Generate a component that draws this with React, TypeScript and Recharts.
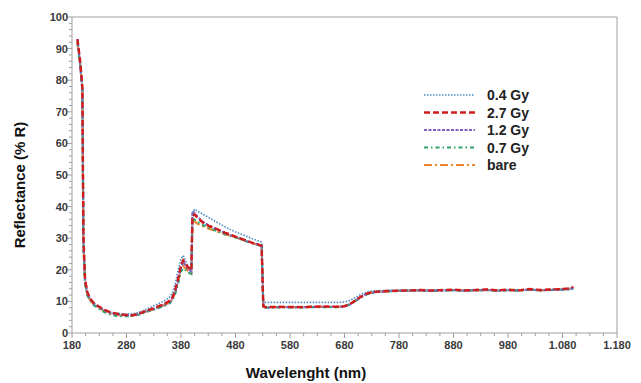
import React from 'react';
import { LineChart, Line, XAxis, YAxis, ReferenceLine, Legend } from 'recharts';

const wavelengths = [
  190, 195, 199, 201, 204, 208, 213, 220, 230, 240,
  250, 260, 270, 280, 290, 300, 310, 320, 330, 340,
  350, 360, 365, 370, 375, 380, 384, 388, 392, 396,
  399, 401, 405, 410, 420, 430, 440, 450, 460, 470,
  480, 490, 500, 510, 520, 528, 531, 535, 560, 600,
  640, 670, 680, 690, 700, 710, 720, 730, 740, 760,
  780, 800, 820, 840, 860, 880, 900, 920, 940, 960,
  980, 1000, 1020, 1040, 1060, 1080, 1090, 1100
];

const gy04 = [
  92, 85, 77, 28, 16, 12.5, 10.8, 9.4, 8.2, 7.2,
  6.6, 6.3, 6.1, 6.0, 6.1, 6.4, 7.0, 7.8, 8.6, 9.4,
  10.2, 11.5, 13, 16, 20, 23.5, 24.5, 23, 21.5, 20.5,
  20.2, 38, 39.2, 38.6, 37.6, 36.6, 35.6, 34.6, 33.7, 32.8,
  32, 31.3, 30.6, 29.9, 29.3, 28.8, 9.8, 9.7, 9.7, 9.7,
  9.7, 9.7, 9.8, 10.3, 11.2, 12.2, 12.9, 13.3, 13.4, 13.5,
  13.5, 13.5, 13.4, 13.6, 13.5, 13.5, 13.4, 13.6, 13.5, 13.4,
  13.6, 13.5, 13.6, 13.7, 13.6, 13.8, 13.7, 13.9
];

const gy27 = [
  93, 86, 78, 30, 17, 13, 11, 9.5, 8.3, 7.3,
  6.6, 6.2, 5.9, 5.7, 5.6, 6.0, 6.6, 7.3, 7.8, 8.6,
  9.2, 10.3, 11.5, 14, 17.5, 21.5, 23, 22, 21, 20.2,
  19.8, 37, 37.5, 36.5, 35, 34, 33.3, 32.6, 31.8, 31.2,
  30.5, 29.9, 29.2, 28.6, 28.1, 27.6, 8.5, 8.2, 8.3, 8.2,
  8.4, 8.3, 8.5, 9.2, 10.3, 11.5, 12.4, 12.9, 13.1, 13.3,
  13.4, 13.5, 13.6, 13.4, 13.6, 13.7, 13.5, 13.6, 13.8, 13.5,
  13.7, 13.5, 13.9, 13.6, 13.8, 13.9, 14.1, 14.6
];

const gy12 = [
  93, 85, 77, 29, 16.5, 12.8, 10.8, 9.3, 8.1, 7.1,
  6.4, 6.0, 5.8, 5.6, 5.6, 5.9, 6.5, 7.1, 7.6, 8.3,
  9.0, 10.0, 11.2, 13.5, 17, 21, 22.5, 21.5, 20.5, 19.8,
  19.5, 38.5, 38.0, 36.8, 35.2, 34.1, 33.3, 32.5, 31.7, 31.0,
  30.4, 29.8, 29.1, 28.5, 28.0, 27.5, 8.3, 8.1, 8.2, 8.2,
  8.3, 8.3, 8.4, 9.1, 10.2, 11.4, 12.3, 12.8, 13.0, 13.3,
  13.4, 13.4, 13.5, 13.4, 13.5, 13.6, 13.4, 13.5, 13.7, 13.4,
  13.6, 13.5, 13.8, 13.5, 13.7, 13.8, 13.9, 14.3
];

const gy07 = [
  92, 85, 77, 27, 15.5, 12, 10.3, 8.8, 7.6, 6.6,
  5.9, 5.5, 5.3, 5.3, 5.4, 5.7, 6.2, 6.9, 7.4, 8.0,
  8.6, 9.5, 10.6, 12.8, 16, 19.5, 20.5, 20, 19.3, 18.9,
  18.7, 36, 35.8, 35.2, 34.2, 33.4, 32.7, 32.0, 31.3, 30.8,
  30.2, 29.7, 29.0, 28.5, 28.0, 27.5, 8.2, 8.0, 8.1, 8.1,
  8.2, 8.2, 8.3, 9.0, 10.1, 11.3, 12.2, 12.7, 13.0, 13.2,
  13.3, 13.4, 13.4, 13.3, 13.5, 13.5, 13.4, 13.5, 13.6, 13.4,
  13.5, 13.4, 13.7, 13.5, 13.6, 13.7, 13.8, 14.0
];

const bare = [
  92, 85, 77, 28, 16, 12.3, 10.5, 9.0, 7.9, 6.9,
  6.2, 5.8, 5.6, 5.5, 5.5, 5.8, 6.4, 7.0, 7.5, 8.2,
  8.9, 9.8, 11, 13.2, 16.5, 20.2, 21.2, 20.5, 19.8, 19.3,
  19.0, 35.5, 35.3, 34.6, 33.8, 33.1, 32.5, 31.9, 31.3, 30.8,
  30.3, 29.7, 29.1, 28.5, 28.0, 27.5, 8.3, 8.1, 8.2, 8.2,
  8.3, 8.3, 8.4, 9.1, 10.2, 11.4, 12.3, 12.8, 13.0, 13.2,
  13.3, 13.4, 13.5, 13.4, 13.5, 13.6, 13.4, 13.5, 13.6, 13.4,
  13.6, 13.5, 13.7, 13.5, 13.7, 13.8, 13.9, 14.2
];

const xTicks = Array.from({ length: 41 }, (_, i) => 180 + i * 25);
const yTicks = Array.from({ length: 51 }, (_, i) => i * 2);

const data = wavelengths.map((w, i) => ({
  w,
  gy04: gy04[i],
  gy27: gy27[i],
  gy12: gy12[i],
  gy07: gy07[i],
  bare: bare[i]
}));

// drawn in this order, red on top
const series = [
  { key: 'bare', name: 'bare', color: '#f0862c', dash: '8 3 2 3', width: 2.2 },
  { key: 'gy07', name: '0.7 Gy', color: '#2ea36a', dash: '4 3 1.5 3', width: 2.2 },
  { key: 'gy12', name: '1.2 Gy', color: '#7f5fbf', dash: '3 1.5', width: 2.2 },
  { key: 'gy04', name: '0.4 Gy', color: '#4a8ac4', dash: '1.5 1.5', width: 1.6 },
  { key: 'gy27', name: '2.7 Gy', color: '#d01c1c', dash: '6 3', width: 2.4 }
];
const legendOrder = ['gy04', 'gy27', 'gy12', 'gy07', 'bare'];

const FONT = 'Arial, "Liberation Sans", sans-serif';
const AXIS = '#a0a0a0';

const fmtX = (v: number) => (v >= 1000 ? `${Math.floor(v / 1000)}.${String(v % 1000).padStart(3, '0')}` : String(v));

function XTick(props: any) {
  const { x, y, payload } = props;
  const major = (payload.value - 180) % 100 === 0;
  return (
    <g>
      <line x1={x} x2={x} y1={y} y2={y + (major ? 5 : 3)} stroke={AXIS} />
      {major && (
        <text x={x} y={y + 16} textAnchor="middle" fontSize={11} fontWeight="bold" fill="#3a3a3a" fontFamily={FONT}>
          {fmtX(payload.value)}
        </text>
      )}
    </g>
  );
}

function YTick(props: any) {
  const { x, y, payload } = props;
  const major = payload.value % 10 === 0;
  return (
    <g>
      <line x1={x - (major ? 5 : 3)} x2={x} y1={y} y2={y} stroke={AXIS} />
      {major && (
        <text x={x - 4} y={y + 4} textAnchor="end" fontSize={11} fontWeight="bold" fill="#3a3a3a" fontFamily={FONT}>
          {payload.value}
        </text>
      )}
    </g>
  );
}

function LegendBox() {
  return (
    <svg width={140} height={100}>
      {legendOrder.map((k, i) => {
        const s = series.find((d) => d.key === k)!;
        const cy = 10 + i * 17.5;
        return (
          <g key={k}>
            <line x1={4} x2={55} y1={cy} y2={cy} stroke={s.color} strokeWidth={s.width} strokeDasharray={s.dash} />
            <text x={67} y={cy + 5} fontSize={14} fontWeight="bold" fill="#222" fontFamily={FONT}>
              {s.name}
            </text>
          </g>
        );
      })}
    </svg>
  );
}

export default function App() {
  return (
    <div style={{ position: 'absolute', left: 0, top: 0, background: '#fff' }}>
      <LineChart width={641} height={383} data={data} margin={{ top: 17, right: 24, bottom: 20, left: 32 }}>
        <XAxis
          dataKey="w"
          type="number"
          domain={[180, 1180]}
          ticks={xTicks}
          interval={0}
          tickSize={0}
          tickMargin={0}
          tickLine={false}
          tick={<XTick />}
          height={30}
          stroke={AXIS}
          label={(p: any) => (
            <text x={306} y={378} textAnchor="middle" fontSize={15} fontWeight="bold" fill="#111" fontFamily={FONT}>
              Wavelenght (nm)
            </text>
          )}
        />
        <YAxis
          type="number"
          domain={[0, 100]}
          ticks={yTicks}
          interval={0}
          tickSize={0}
          tickMargin={0}
          tickLine={false}
          tick={<YTick />}
          width={40}
          stroke={AXIS}
          label={(p: any) => (
            <text x={25} y={185} transform="rotate(-90 25 185)" textAnchor="middle" fontSize={15} fontWeight="bold" fill="#111" fontFamily={FONT}>
              Reflectance (% R)
            </text>
          )}
        />
        <ReferenceLine y={100} stroke={AXIS} />
        <ReferenceLine x={1180} stroke={AXIS} />
        {series.map((s) => (
          <Line
            key={s.key}
            dataKey={s.key}
            name={s.name}
            type="linear"
            stroke={s.color}
            strokeWidth={s.width}
            strokeDasharray={s.dash}
            dot={false}
            isAnimationActive={false}
          />
        ))}
        <Legend
          layout="horizontal"
          verticalAlign="middle"
          align="center"
          content={() => <LegendBox />}
          wrapperStyle={{ top: 85, left: 420, width: 140, height: 100 }}
        />
      </LineChart>
    </div>
  );
}
